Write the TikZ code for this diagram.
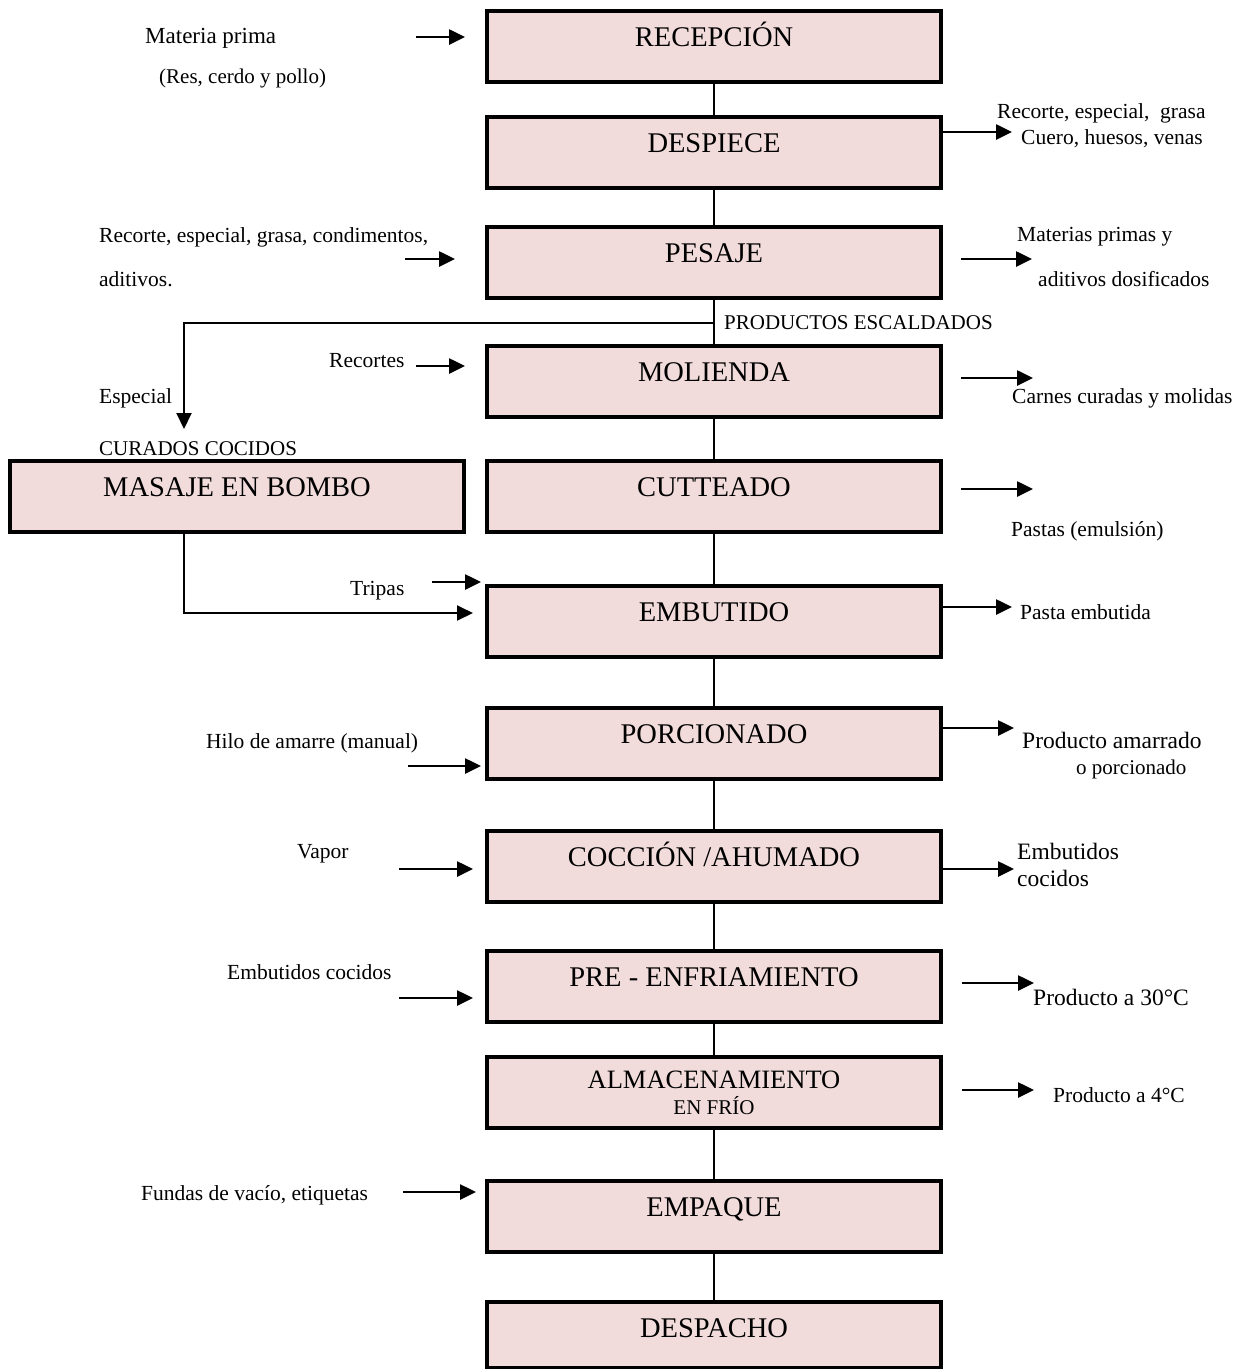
\documentclass[tikz,border=0pt]{standalone}
\usepackage{fontspec}
\setmainfont{Liberation Serif}
\usetikzlibrary{arrows.meta,calc}
\definecolor{boxpink}{HTML}{F2DCDB}
\begin{document}
\begin{tikzpicture}[x=1pt,y=-1pt,
  stepbox/.style={draw=black, line width=4pt, fill=boxpink, minimum width=454pt,
    minimum height=71pt, inner sep=0pt, text height=35pt, text depth=36pt,
    anchor=north, font=\fontsize{28.5}{32}\selectfont},
  link/.style={line width=2pt},
  flow/.style={line width=2.6pt, -{Triangle[length=16pt,width=15pt]}},
  lbl/.style={anchor=base west, yshift=-6pt, inner sep=0pt, font=\fontsize{21.5}{24}\selectfont},
  lblbig/.style={lbl, font=\fontsize{23.5}{27}\selectfont},
]
\fill[white] (0,0) rectangle (1243,1369);
\useasboundingbox (0,0) rectangle (1243,1369);

% main process chain
\node[stepbox] (rec)  at (714,9)    {RECEPCIÓN};
\node[stepbox] (desp) at (714,115)  {DESPIECE};
\node[stepbox] (pes)  at (714,225)  {PESAJE};
\node[stepbox] (mol)  at (714,344)  {MOLIENDA};
\node[stepbox] (cut)  at (714,459)  {CUTTEADO};
\node[stepbox] (emb)  at (714,584)  {EMBUTIDO};
\node[stepbox] (por)  at (714,706)  {PORCIONADO};
\node[stepbox] (coc)  at (714,829)  {COCCIÓN /AHUMADO};
\node[stepbox] (pre)  at (714,949)  {PRE - ENFRIAMIENTO};
\node[stepbox] (alm)  at (714,1055) {};
\node[stepbox] (emp)  at (714,1179) {EMPAQUE};
\node[stepbox, minimum height=66pt, text depth=31pt] (des) at (714,1300) {DESPACHO};
\node[font=\fontsize{26.5}{30}\selectfont, inner sep=0pt] (almA) at (714,1080) {ALMACENAMIENTO};
\node[font=\fontsize{21}{24}\selectfont, inner sep=0pt] (almB) at (714,1106) {EN FRÍO};

% side branch for cured products
\node[stepbox] (mas) at (237,459) {MASAJE EN BOMBO};

\draw[link] (rec) -- (desp);
\draw[link] (desp) -- (pes);
\draw[link] (pes) -- (mol);
\draw[link] (mol) -- (cut);
\draw[link] (cut) -- (emb);
\draw[link] (emb) -- (por);
\draw[link] (por) -- (coc);
\draw[link] (coc) -- (pre);
\draw[link] (pre) -- (alm);
\draw[link] (alm) -- (emp);
\draw[link] (emp) -- (des);

\coordinate (br) at (pes.south |- 0,323);
\coordinate (espc) at (184,429);
\coordinate (embin) at (473,613);
\draw[flow, line width=2pt] (br) -| (espc);
\draw[flow, line width=2pt] (mas.south -| espc) |- (embin);

% inputs on the left
\draw[flow] (416,37) -- (465,37);
\draw[flow] (405,259) -- (455,259);
\draw[flow] (416,366) -- (465,366);
\draw[flow] (432,582) -- (481,582);
\draw[flow] (408,766) -- (481,766);
\draw[flow] (399,869) -- (473,869);
\draw[flow] (399,998) -- (473,998);
\draw[flow] (403,1192) -- (476,1192);

% outputs on the right
\draw[flow] (desp.east |- 0,132) -- (1012,132);
\draw[flow] (961,259) -- (1032,259);
\draw[flow] (961,378) -- (1033,378);
\draw[flow] (961,489) -- (1033,489);
\draw[flow] (emb.east |- 0,607) -- (1012,607);
\draw[flow] (por.east |- 0,728) -- (1014,728);
\draw[flow] (coc.east |- 0,869) -- (1014,869);
\draw[flow] (962,983) -- (1034,983);
\draw[flow] (962,1090) -- (1034,1090);

% left labels
\node[lbl, font=\fontsize{23}{26}\selectfont] (tMat) at (145,37) {Materia prima};
\node[lbl, font=\fontsize{21}{24}\selectfont] (tRes) at (159,77) {(Res, cerdo y pollo)};
\node[lbl] (tRec1) at (99,236) {Recorte, especial, grasa, condimentos,};
\node[lbl] (tRec2) at (99,280) {aditivos.};
\node[lbl] (tRcs) at (329,361) {Recortes};
\node[lbl] (tEsp) at (99,397) {Especial};
\node[lbl, font=\fontsize{21}{24}\selectfont] (tCur) at (99,449) {CURADOS COCIDOS};
\node[lbl] (tTri) at (350,589) {Tripas};
\node[lbl] (tHil) at (206,742) {Hilo de amarre (manual)};
\node[lbl] (tVap) at (297,852) {Vapor};
\node[lbl] (tEmc) at (227,973) {Embutidos cocidos};
\node[lbl] (tFun) at (141,1194) {Fundas de vacío, etiquetas};

% right labels
\node[lbl] (tDes1) at (997,112) {Recorte, especial, \ grasa};
\node[lbl] (tDes2) at (1021,138) {Cuero, huesos, venas};
\node[lbl, font=\fontsize{21}{24}\selectfont] (tEsc) at (724,323) {PRODUCTOS ESCALDADOS};
\node[lbl] (tPes1) at (1017,235) {Materias primas y};
\node[lbl] (tPes2) at (1038,280) {aditivos dosificados};
\node[lbl] (tMol) at (1012,397) {Carnes curadas y molidas};
\node[lbl] (tCut) at (1011,530) {Pastas (emulsión)};
\node[lbl] (tEmb) at (1020,613) {Pasta embutida};
\node[lblbig] (tPor1) at (1022,742) {Producto amarrado};
\node[lbl, font=\fontsize{21}{24}\selectfont] (tPor2) at (1076,768) {o porcionado};
\node[lblbig] (tCoc1) at (1017,853) {Embutidos};
\node[lblbig] (tCoc2) at (1017,880) {cocidos};
\node[lblbig] (tPre) at (1033,999) {Producto a 30°C};
\node[lbl] (tAlm) at (1053,1096) {Producto a 4°C};
\end{tikzpicture}
\end{document}
